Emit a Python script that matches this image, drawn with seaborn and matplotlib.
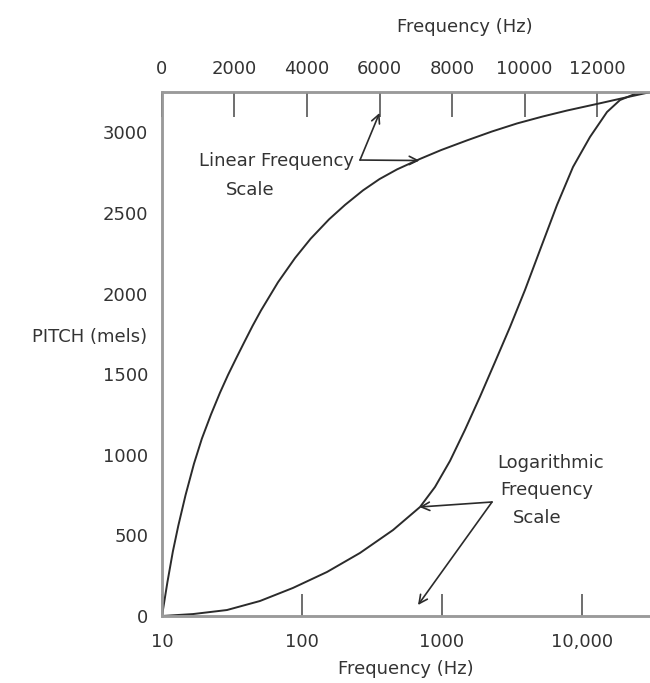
"""
Pitch (mels) versus frequency on linear and logarithmic scales
"""
import matplotlib
matplotlib.use("Agg")
import matplotlib.pyplot as plt
import seaborn as sns

# log-scale curve (bottom axis, Hz) -> pitch in mels
log_freq = [10, 16.65, 29.1, 50.1, 86.2, 150.9, 259.6, 446.7, 696.6, 891,
            1141, 1460, 1868, 2391, 3060, 3916, 5012, 6628, 8626, 11405,
            15090, 18680, 23910, 30600]
log_mels = [0, 12, 37, 93, 174, 273, 391, 533, 676, 800,
            962, 1155, 1360, 1575, 1792, 2022, 2270, 2549, 2785, 2971,
            3126, 3200, 3238, 3250]

# linear-scale curve (top axis, Hz) -> pitch in mels
lin_freq = [0, 150, 300, 450, 650, 883, 1100, 1352, 1600, 1821, 2050, 2262,
            2500, 2731, 3200, 3669, 4100, 4607, 5050, 5545, 6000, 6483, 7117,
            7700, 8414, 9100, 9793, 10500, 11170, 12080, 12830, 13460]
lin_mels = [0, 210, 400, 560, 750, 945, 1100, 1250, 1385, 1495, 1600, 1695,
            1800, 1895, 2070, 2220, 2340, 2460, 2550, 2640, 2710, 2770, 2835,
            2890, 2950, 3005, 3055, 3098, 3135, 3180, 3218, 3249]

mel_ticks = [0, 500, 1000, 1500, 2000, 2500, 3000]
top_ticks = [0, 2000, 4000, 6000, 8000, 10000, 12000]
bottom_ticks = [10, 100, 1000, 10000]
bottom_labels = ["10", "100", "1000", "10,000"]

TEXT = "#333333"
SPINE = "#9a9a9a"
LINE = "#2b2b2b"
FS = 13

sns.set_style("white")
plt.rcParams['font.family'] = ['DejaVu Sans']
plt.rcParams['text.color'] = TEXT
plt.rcParams['axes.labelcolor'] = TEXT
plt.rcParams['xtick.color'] = "#555555"
plt.rcParams['ytick.color'] = "#555555"
plt.rcParams['xtick.labelcolor'] = TEXT
plt.rcParams['ytick.labelcolor'] = TEXT

fig = plt.figure(figsize=(6.5, 6.83), dpi=100)
ax = fig.add_axes([0.2492, 0.0981, 0.7508, 0.7672])
ax_top = ax.twiny()

# curves
sns.lineplot(x=log_freq, y=log_mels, ax=ax, color=LINE, linewidth=1.4,
             sort=False, estimator=None)
sns.lineplot(x=lin_freq, y=lin_mels, ax=ax_top, color=LINE, linewidth=1.4,
             sort=False, estimator=None)

ax.set_xscale("log")
ax.set_xlim(10, 30600)
ax.set_ylim(0, 3250)
ax_top.set_xlim(0, 13460)

ax.set_xticks(bottom_ticks)
ax.set_xticklabels(bottom_labels)
ax.xaxis.set_minor_locator(matplotlib.ticker.NullLocator())
ax.set_yticks(mel_ticks)
ax_top.set_xticks(top_ticks)

for a in (ax, ax_top):
    for side, sp in a.spines.items():
        sp.set_color(SPINE)
        sp.set_linewidth(1.8)
    a.spines['right'].set_visible(False)

ax.tick_params(axis='x', direction='in', length=16, width=1.2, pad=12, labelsize=FS)
ax.tick_params(axis='y', direction='in', length=12, width=1.2, pad=10, labelsize=FS)
ax_top.tick_params(axis='x', direction='in', length=18, width=1.2, pad=10, labelsize=FS)

ax.set_xlabel("Frequency (Hz)", fontsize=FS, labelpad=7)
ax_top.set_xlabel("Frequency (Hz)", fontsize=FS, labelpad=18)
ax_top.xaxis.set_label_coords(0.62, 1.115)
ax.set_ylabel("PITCH (mels)", fontsize=FS, rotation=0, ha='right', va='center')
ax.yaxis.set_label_coords(-0.03, 0.533)

# linear scale annotation
ax_top.text(5297, 2822, "Linear Frequency", fontsize=FS, ha='right', va='center')
ax_top.text(2428, 2642, "Scale", fontsize=FS, ha='center', va='center')
arrow = dict(arrowstyle='->', color=LINE, lw=1.2, mutation_scale=15,
             shrinkA=0, shrinkB=0)
ax_top.annotate("", xy=(6000, 3120), xytext=(5462, 2828), arrowprops=arrow)
ax_top.annotate("", xy=(7100, 2825), xytext=(5462, 2828), arrowprops=arrow)

# logarithmic scale annotation
ax.text(2472, 949, "Logarithmic", fontsize=FS, ha='left', va='center')
ax.text(2596, 781, "Frequency", fontsize=FS, ha='left', va='center')
ax.text(3214, 608, "Scale", fontsize=FS, ha='left', va='center')
ax.annotate("", xy=(690, 676), xytext=(2277, 707), arrowprops=arrow)
ax.annotate("", xy=(674, 68), xytext=(2277, 707), arrowprops=arrow)

plt.savefig("out.png", dpi=100)
plt.close()
